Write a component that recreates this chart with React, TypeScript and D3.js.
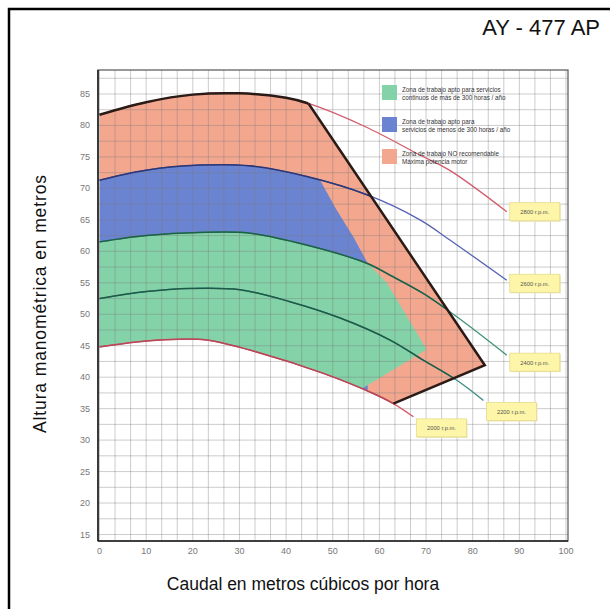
import React from "react";
import * as d3 from "d3";

// ---------- data ----------
const xTicks = [0, 10, 20, 30, 40, 50, 60, 70, 80, 90, 100];
const yTicks = [15, 20, 25, 30, 35, 40, 45, 50, 55, 60, 65, 70, 75, 80, 85];
const rpmLabels = ["2800 r.p.m.", "2600 r.p.m.", "2400 r.p.m.", "2200 r.p.m.", "2000 r.p.m."];

const curve2800: [number, number][] = [[0, 81.7], [10, 83.7], [20, 84.9], [30, 85.1], [40, 84.4], [44.8, 83.5], [57, 79.8], [68.7, 75.3], [75, 72.9], [87.3, 66.3]];
const curve2600: [number, number][] = [[0, 71.3], [10, 72.9], [21.5, 73.7], [32, 73.6], [44.4, 71.9], [57.3, 69.0], [68.7, 65.0], [75.1, 61.8], [87.3, 55.4]];
const curve2400: [number, number][] = [[0, 61.5], [10, 62.5], [21.5, 63.0], [32, 62.9], [44.4, 61.0], [57.3, 58.1], [62.3, 56.2], [69.4, 53.3], [76.6, 49.6], [87.3, 43.5]];
const curve2200: [number, number][] = [[0, 52.5], [10, 53.6], [19.4, 54.1], [30.1, 53.9], [40.8, 52.0], [51.6, 49.4], [62.3, 45.9], [69.4, 42.7], [76.6, 39.5], [82.3, 36.3]];
const curve2000: [number, number][] = [[0, 44.8], [8, 45.6], [15.8, 46.0], [23, 45.9], [33.7, 44.0], [48, 40.6], [58.7, 37.4], [63, 35.8], [67.3, 33.7]];

const boundaryVertices: [number, number][] = [[44.8, 83.5], [82.6, 41.9], [63, 35.8]];
const blueEdge: [number, number][] = [[47.3, 71.3], [50.8, 66.6], [54.4, 62.3], [57.5, 58.1]];
const greenEdge: [number, number][] = [[57.5, 58.1], [61.6, 55.0], [65.9, 49.7], [70.1, 44.4], [56.5, 38.3]];

const legendLines = [
  ["Zona de trabajo apto para servicios", "continuos de más de 300 horas / año"],
  ["Zona de trabajo apto para", "servicios de menos de 300 horas / año"],
  ["Zona de trabajo NO recomendable", "Máxima potencia motor"],
];

// ---------- layout / style ----------
const W = 610, H = 609;
const plot = { left: 98, right: 568, top: 70, bottom: 541 };
const x = d3.scaleLinear().domain([0, 100]).range([99.5, 566]);
const y = d3.scaleLinear().domain([15, 85]).range([534.5, 94]);
const COL = { salmon: "#f4a78f", blue: "#6b84d2", green: "#84d2a8" };
const curveColors = ["#d25a6c", "#5563b5", "#3f9279", "#3a8a84", "#d65a6a"];
const curveInner = ["#2b1b17", "#2c3773", "#1f6048", "#1f5a48", "#b84658"];
const labelDy = [-9, -6, -2, 2, 2];

export default function App() {
  const curves = [curve2800, curve2600, curve2400, curve2200, curve2000];
  const cv = d3.curveCatmullRom.alpha(0.5);
  const line = d3.line<[number, number]>().x(d => x(d[0])).y(d => y(d[1])).curve(cv);
  const poly = d3.line<[number, number]>().x(d => x(d[0])).y(d => y(d[1]));
  const areaBelow = d3.area<[number, number]>().x(d => x(d[0])).y0(y(5)).y1(d => y(d[1])).curve(cv);
  const areaAbove = d3.area<[number, number]>().x(d => x(d[0])).y0(y(100)).y1(d => y(d[1])).curve(cv);

  const lastBound = boundaryVertices[boundaryVertices.length - 1];
  const boundaryPoly: [number, number][] = [[-5, 100], [boundaryVertices[0][0], 100], ...boundaryVertices, [lastBound[0], 5], [-5, 5]];
  const blueLast = blueEdge[blueEdge.length - 1];
  const bluePoly: [number, number][] = [[-5, 100], [blueEdge[0][0], 100], ...blueEdge, [blueLast[0], 5], [-5, 5]];
  const greenLast = greenEdge[greenEdge.length - 1];
  const greenPoly: [number, number][] = [[-5, 100], [greenEdge[0][0], 100], ...greenEdge, [greenLast[0], 5], [-5, 5]];
  const bottomEnd = curve2000[curve2000.length - 1];

  const vGrid = d3.range(0, 31).map(i => (i * 100) / 30);
  const hGrid = d3.range(0, 30).map(i => 15 + i * 2.5).filter(v => y(v) > plot.top);

  const font = "Arial, 'Liberation Sans', sans-serif";

  return (
    <svg width={W} height={H} style={{ position: "absolute", left: 0, top: 0, background: "#fff" }} fontFamily={font}>
      <defs>
        <clipPath id="cPlot"><rect x={plot.left} y={plot.top} width={plot.right - plot.left} height={plot.bottom - plot.top} /></clipPath>
        <clipPath id="cAboveBottom">
          <path d={areaAbove(curve2000) || ""} />
          <rect x={x(bottomEnd[0]) - 0.5} y={0} width={W} height={H} />
        </clipPath>
        <clipPath id="cBoundary"><path d={(poly(boundaryPoly) || "") + "Z"} /></clipPath>
        <clipPath id="cBlue"><path d={(poly(bluePoly) || "") + "Z"} /></clipPath>
        <clipPath id="cGreen"><path d={(poly(greenPoly) || "") + "Z"} /></clipPath>
        <clipPath id="cLeftVertex"><rect x={plot.left - 5} y={plot.top - 10} width={x(boundaryVertices[0][0]) - plot.left + 5} height={plot.bottom - plot.top + 20} /></clipPath>
      </defs>
      <rect x={9} y={9} width={700} height={700} fill="#fff" stroke="#000" strokeWidth={2.5} />

      <text x={600} y={35} textAnchor="end" fontSize={22} fill="#111">AY - 477 AP</text>

      <g clipPath="url(#cPlot)">
        {/* zones */}
        <g clipPath="url(#cAboveBottom)">
          <g clipPath="url(#cBoundary)">
            <path d={areaBelow(curve2800) || ""} fill={COL.salmon} />
            <g clipPath="url(#cBlue)"><path d={areaBelow(curve2600) || ""} fill={COL.blue} /></g>
            <g clipPath="url(#cGreen)"><path d={areaBelow(curve2400) || ""} fill={COL.green} /></g>
          </g>
        </g>
        {/* grid */}
        {vGrid.map((v, i) => (
          <line key={"v" + i} x1={x(v)} x2={x(v)} y1={plot.top} y2={plot.bottom} stroke="#7a7a7a" strokeOpacity={0.38} strokeWidth={1} />
        ))}
        {hGrid.map((v, i) => (
          <line key={"h" + i} x1={plot.left} x2={plot.right} y1={y(v)} y2={y(v)} stroke="#7a7a7a" strokeOpacity={0.38} strokeWidth={1} />
        ))}
        {/* curves */}
        {curves.map((c, i) => (
          <path key={"c" + i} d={line(c) || ""} fill="none" stroke={curveColors[i]} strokeWidth={1.3} />
        ))}
        <g clipPath="url(#cBoundary)">
          {curves.slice(1).map((c, i) => (
            <path key={"ci" + i} d={line(c) || ""} fill="none" stroke={curveInner[i + 1]} strokeWidth={1.5} />
          ))}
        </g>
        <g clipPath="url(#cLeftVertex)">
          <path d={line(curve2800) || ""} fill="none" stroke={curveInner[0]} strokeWidth={2.5} />
        </g>
        <path d={poly(boundaryVertices) || ""} fill="none" stroke="#2b1b17" strokeWidth={2.5} strokeLinejoin="miter" />
      </g>

      {/* frame */}
      <rect x={plot.left} y={plot.top} width={plot.right - plot.left} height={plot.bottom - plot.top} fill="none" stroke="#555" strokeWidth={1.2} />
      <line x1={plot.left} x2={plot.left} y1={plot.top} y2={plot.bottom} stroke="#222" strokeWidth={1.6} />
      <line x1={plot.left} x2={plot.right} y1={plot.bottom} y2={plot.bottom} stroke="#222" strokeWidth={1.6} />

      {/* ticks */}
      {yTicks.map(t => (
        <text key={"yt" + t} x={90} y={y(t) + 3} textAnchor="end" fontSize={9} fill="#777">{t}</text>
      ))}
      {xTicks.map(t => (
        <text key={"xt" + t} x={x(t)} y={554} textAnchor="middle" fontSize={9} fill="#777">{t}</text>
      ))}

      {/* legend */}
      {legendLines.map((ls, i) => {
        const top = [85, 117, 149][i];
        const fill = [COL.green, COL.blue, COL.salmon][i];
        return (
          <g key={"lg" + i}>
            <rect x={382} y={top} width={15} height={15} fill={fill} />
            {ls.map((s, j) => (
              <text key={j} x={402} y={top + 7 + j * 8} fontSize={6.3} fill="#333">{s}</text>
            ))}
          </g>
        );
      })}

      {/* rpm labels */}
      {curves.map((c, i) => {
        const end = c[c.length - 1];
        const bx = x(end[0]) + 3;
        const by = y(end[1]) + labelDy[i];
        return (
          <g key={"lb" + i}>
            <rect x={bx + 1} y={by + 1} width={50} height={18} fill="#e8e2b0" />
            <rect x={bx} y={by} width={50} height={18} fill="#fdf6a8" stroke="#e6dc8e" strokeWidth={0.8} />
            <text x={bx + 25} y={by + 11.5} textAnchor="middle" fontSize={5.8} fill="#555">{rpmLabels[i]}</text>
          </g>
        );
      })}

      {/* axis titles */}
      <text x={303} y={590} textAnchor="middle" fontSize={17.5} fill="#111">Caudal en metros cúbicos por hora</text>
      <text transform="translate(46,304) rotate(-90)" textAnchor="middle" fontSize={17.5} fill="#111" textLength={258} lengthAdjust="spacing">Altura manométrica en metros</text>
    </svg>
  );
}
